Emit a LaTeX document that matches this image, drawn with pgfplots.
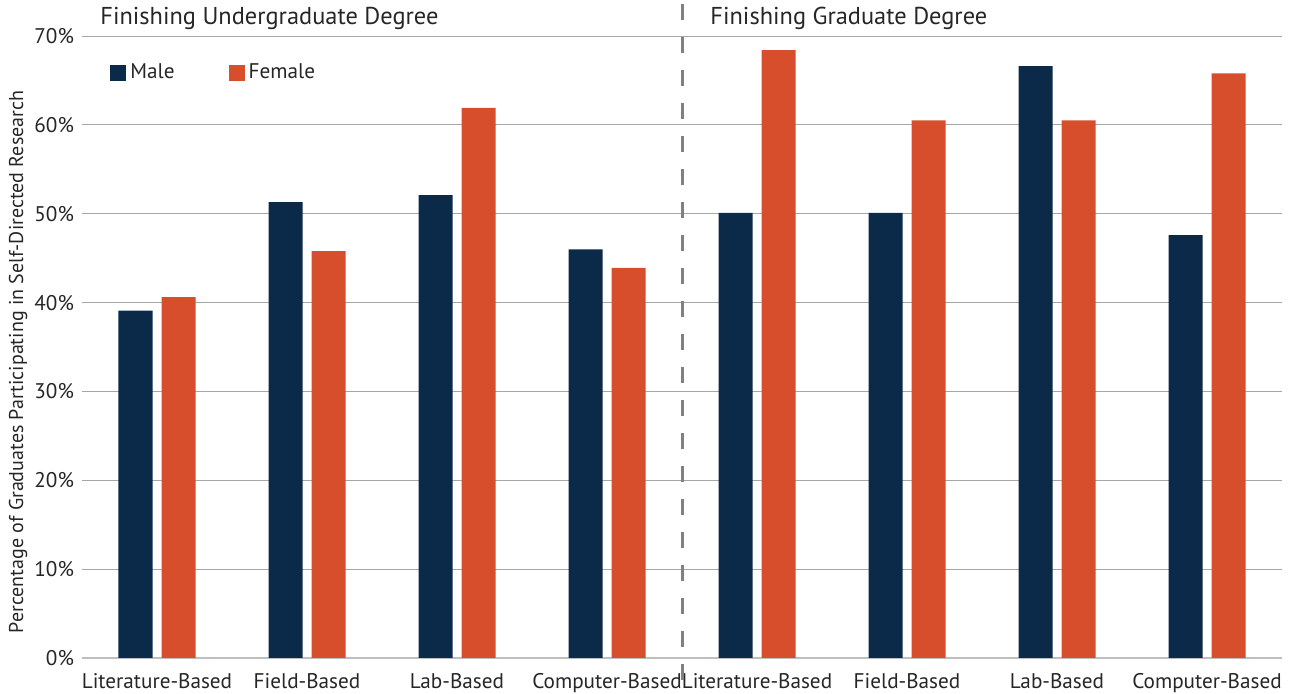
\documentclass[border=0pt]{standalone}
\usepackage{fontspec}
\setmainfont{PT Sans}
\usepackage{pgfplots}
\pgfplotsset{compat=1.18}
\definecolor{male}{HTML}{0B2A4A}
\definecolor{female}{HTML}{D64E2B}
\definecolor{txt}{HTML}{262626}
\definecolor{gridc}{HTML}{A6A6A6}
\definecolor{basec}{HTML}{BFBFBF}
\definecolor{dashc}{HTML}{808080}
\begin{document}
\begin{tikzpicture}[font=\fontsize{10.6}{12}\selectfont, text=txt]
\begin{axis}[
  scale only axis,
  width=600pt, height=311pt,
  xmin=-0.5, xmax=7.5,
  ymin=0, ymax=70,
  ytick={0,10,...,70},
  yticklabel={\pgfmathprintnumber{\tick}\%},
  /pgf/number format/assume math mode=true,
  xtick={0,...,7},
  xticklabels={Literature-Based,Field-Based,Lab-Based,Computer-Based,Literature-Based,Field-Based,Lab-Based,Computer-Based},
  major tick length=0pt,
  axis x line*=bottom,
  axis y line*=left,
  y axis line style={draw=none},
  x axis line style={draw=basec, line width=1pt},
  ymajorgrids,
  grid style={draw=gridc, line width=0.5pt},
  ybar=4.5pt,
  bar width=17pt,
  xticklabel style={yshift=-4pt, text=txt},
  yticklabel style={xshift=-0.5pt, text=txt},
  ylabel={Percentage of Graduates Participating in Self-Directed Research},
  ylabel style={at={(axis description cs:-0.0533,0.476)}, anchor=center, font=\fontsize{10}{12}\selectfont},
  clip=false,
  legend style={at={(rel axis cs:0.0233,0.9405)}, anchor=west, draw=none, fill=none, inner sep=0pt,
    font=\fontsize{10.6}{12}\selectfont, legend columns=2,
    /tikz/every even column/.append style={column sep=25pt}},
  legend cell align=left,
  legend image code/.code={\fill[#1] (0pt,-4pt) rectangle (8pt,4pt);},
]
\addplot[fill=male, draw=none] coordinates {(0,39.1) (1,51.3) (2,52.1) (3,46.0) (4,50.1) (5,50.1) (6,66.6) (7,47.6)};
\addplot[fill=female, draw=none] coordinates {(0,40.6) (1,45.8) (2,61.9) (3,43.9) (4,68.4) (5,60.5) (6,60.5) (7,65.8)};
\legend{Male,Female}
\draw[color=dashc, line width=1.5pt, dash pattern=on 8pt off 8.5pt] (axis cs:3.5,73.6) -- (axis cs:3.5,-3.4);
\node[anchor=west, inner sep=0pt, font=\fontsize{12.2}{14}\selectfont] at (axis cs:-0.38,72.0) {Finishing Undergraduate Degree};
\node[anchor=west, inner sep=0pt, font=\fontsize{12.2}{14}\selectfont] at (axis cs:3.687,72.0) {Finishing Graduate Degree};
\end{axis}
\pgfresetboundingbox
\path ([shift={(-41pt,-18pt)}]current axis.south west) rectangle ([shift={(5.5pt,18pt)}]current axis.north east);
\end{tikzpicture}
\end{document}
